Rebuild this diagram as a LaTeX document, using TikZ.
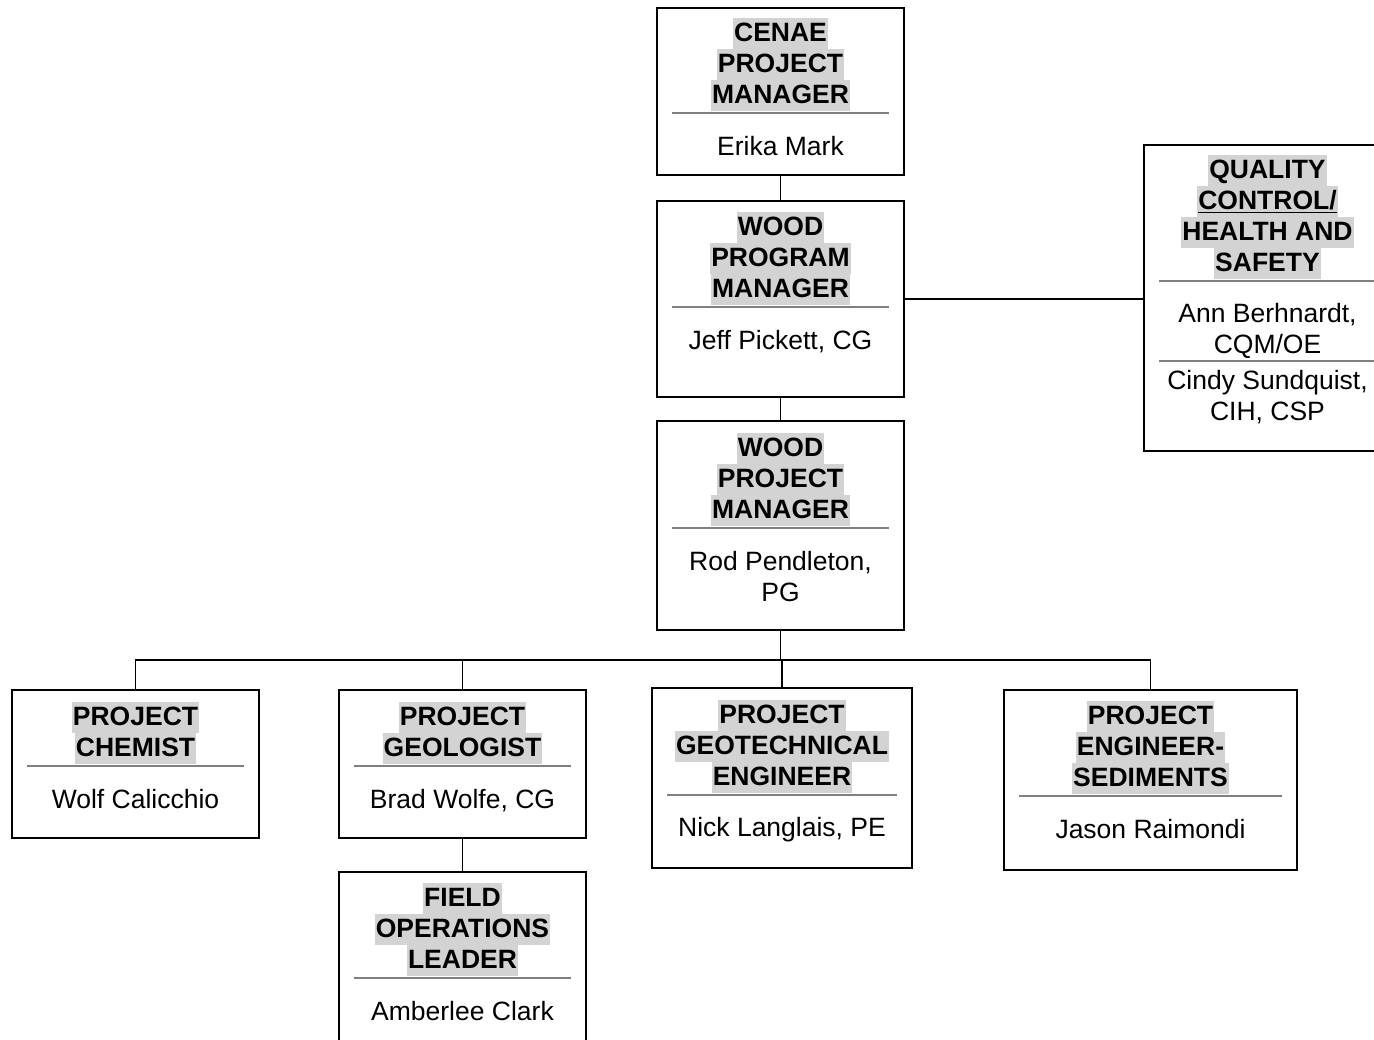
\documentclass[tikz,border=0pt]{standalone}
\usepackage{fontspec}
\setmainfont{Liberation Sans}[Ligatures=CommonOff]
\usetikzlibrary{positioning}
\definecolor{hlgray}{RGB}{211,211,211}
\definecolor{rulegray}{RGB}{128,128,128}
\newcommand{\tstrut}{\rule[-7pt]{0pt}{31pt}}
\newcommand{\hlbox}[1]{{\setlength{\fboxsep}{0pt}\colorbox{hlgray}{\tstrut\hspace{1pt}#1\hspace{1pt}}}}
\begin{document}
\begin{tikzpicture}
[x=1pt, y=-1pt, font=\fontsize{26.5}{31}\selectfont]
\tikzstyle{post}=[draw, line width=1.5pt, inner sep=0pt, minimum width=247pt]
\tikzstyle{title}=[inner sep=0pt, align=center, font=\fontsize{26.5}{31}\selectfont\bfseries]
\tikzstyle{who}=[inner sep=0pt, align=center]
\tikzstyle{divider}=[draw=rulegray, line width=2pt]
\tikzstyle{link}=[line width=1.7pt]

\useasboundingbox (0,0) rectangle (1374,1040);

\node[post, minimum height=167pt]	(CEN)	at (780.5,91.5)	{};
\node[post, minimum height=196pt]	(WPM)	at (780.5,299)	{};
\node[post, minimum height=209pt]	(WPjM)	at (780.5,525.5)	{};
\node[post, minimum height=306pt]	(QC)	at (1267.5,298)	{};
\node[post, minimum height=148pt]	(CHEM)	at (135.5,764)	{};
\node[post, minimum height=148pt]	(GEOL)	at (462.5,764)	{};
\node[post, minimum width=260pt, minimum height=180pt]	(GEOT)	at (782,778)	{};
\node[post, minimum width=293pt, minimum height=180pt]	(SED)	at (1150.5,780)	{};
\node[post, minimum height=175pt]	(FOL)	at (462.5,959.5)	{};

\node[title, below=10.5pt of CEN.north]	(CENt)	{\hlbox{CENAE}\\\hlbox{PROJECT}\\\hlbox{MANAGER}};
\coordinate[below=2pt of CENt]	(CENr);
\draw[divider] ([xshift=16pt]CEN.west |- CENr) -- ([xshift=-16pt]CEN.east |- CENr);
\node[who, below=18pt of CENr]	(CENn)	{\tstrut Erika Mark};

\node[title, below=11.5pt of WPM.north]	(WPMt)	{\hlbox{WOOD}\\\hlbox{PROGRAM}\\\hlbox{MANAGER}};
\coordinate[below=2pt of WPMt]	(WPMr);
\draw[divider] ([xshift=16pt]WPM.west |- WPMr) -- ([xshift=-16pt]WPM.east |- WPMr);
\node[who, below=18pt of WPMr]	(WPMn)	{\tstrut Jeff Pickett, CG};

\node[title, below=12.5pt of WPjM.north]	(WPjMt)	{\hlbox{WOOD}\\\hlbox{PROJECT}\\\hlbox{MANAGER}};
\coordinate[below=2pt of WPjMt]	(WPjMr);
\draw[divider] ([xshift=16pt]WPjM.west |- WPjMr) -- ([xshift=-16pt]WPjM.east |- WPjMr);
\node[who, below=18pt of WPjMr]	(WPjMn)	{\tstrut Rod Pendleton,\\\tstrut PG};

\node[title, below=10.5pt of QC.north]	(QCt)	{\hlbox{QUALITY}\\\hlbox{\underline{CONTROL/}}\\\hlbox{HEALTH AND}\\\hlbox{SAFETY}};
\coordinate[below=1.5pt of QCt]	(QCr);
\draw[divider] ([xshift=16pt]QC.west |- QCr) -- ([xshift=-16pt]QC.east |- QCr);
\node[who, below=18pt of QCr]	(QCn)	{\tstrut Ann Berhnardt,\\\tstrut CQM/OE};
\coordinate[below=0pt of QCn]	(QCs);
\draw[divider] ([xshift=16pt]QC.west |- QCs) -- ([xshift=-16pt]QC.east |- QCs);
\node[who, below=4.5pt of QCs]	(QCm)	{\tstrut Cindy Sundquist,\\\tstrut CIH, CSP};

\node[title, below=12.5pt of CHEM.north]	(CHEMt)	{\hlbox{PROJECT}\\\hlbox{CHEMIST}};
\coordinate[below=2pt of CHEMt]	(CHEMr);
\draw[divider] ([xshift=16pt]CHEM.west |- CHEMr) -- ([xshift=-16pt]CHEM.east |- CHEMr);
\node[who, below=18pt of CHEMr]	(CHEMn)	{\tstrut Wolf Calicchio};

\node[title, below=12.5pt of GEOL.north]	(GEOLt)	{\hlbox{PROJECT}\\\hlbox{GEOLOGIST}};
\coordinate[below=2pt of GEOLt]	(GEOLr);
\draw[divider] ([xshift=16pt]GEOL.west |- GEOLr) -- ([xshift=-16pt]GEOL.east |- GEOLr);
\node[who, below=18pt of GEOLr]	(GEOLn)	{\tstrut Brad Wolfe, CG};

\node[title, below=12.5pt of GEOT.north]	(GEOTt)	{\hlbox{PROJECT}\\\hlbox{GEOTECHNICAL}\\\hlbox{ENGINEER}};
\coordinate[below=1.5pt of GEOTt]	(GEOTr);
\draw[divider] ([xshift=16pt]GEOT.west |- GEOTr) -- ([xshift=-16pt]GEOT.east |- GEOTr);
\node[who, below=18pt of GEOTr]	(GEOTn)	{\tstrut Nick Langlais, PE};

\node[title, below=11.5pt of SED.north]	(SEDt)	{\hlbox{PROJECT}\\\hlbox{ENGINEER-}\\\hlbox{SEDIMENTS}};
\coordinate[below=2pt of SEDt]	(SEDr);
\draw[divider] ([xshift=16pt]SED.west |- SEDr) -- ([xshift=-16pt]SED.east |- SEDr);
\node[who, below=18pt of SEDr]	(SEDn)	{\tstrut Jason Raimondi};

\node[title, below=11.5pt of FOL.north]	(FOLt)	{\hlbox{FIELD}\\\hlbox{OPERATIONS}\\\hlbox{LEADER}};
\coordinate[below=2pt of FOLt]	(FOLr);
\draw[divider] ([xshift=16pt]FOL.west |- FOLr) -- ([xshift=-16pt]FOL.east |- FOLr);
\node[who, below=18pt of FOLr]	(FOLn)	{\tstrut Amberlee Clark};

\coordinate (bus) at (0,660);

\draw [link] (CEN)--(WPM);
\draw [link] (WPM)--(WPjM);
\draw [link] (WPM.east)--(WPM.east -| QC.west);
\draw [link] (WPjM.south)--(WPjM.south |- bus) -| (CHEM.north);
\draw [link] (WPjM.south)--(WPjM.south |- bus) -| (GEOL.north);
\draw [link] (WPjM.south)--(WPjM.south |- bus) -| (GEOT.north);
\draw [link] (WPjM.south)--(WPjM.south |- bus) -| (SED.north);
\draw [link] (GEOL)--(FOL);
\end{tikzpicture}
\end{document}
